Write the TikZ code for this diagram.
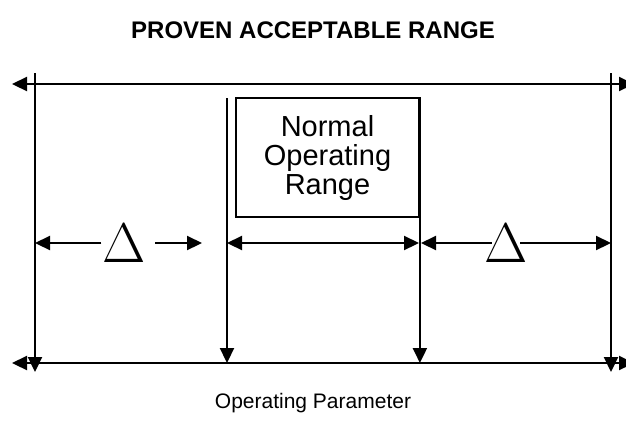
\documentclass[tikz,border=0pt]{standalone}
\usepackage{fix-cm}
\usepackage{fontspec}
\setmainfont{Liberation Sans}
\usetikzlibrary{arrows.meta}

\begin{document}
\begin{tikzpicture}[x=1pt,y=-1pt,line width=2.2pt,
	tip/.style={-{Triangle[length=15pt,width=14pt]}},
	twotip/.style={{Triangle[length=15pt,width=14pt]}-{Triangle[length=15pt,width=14pt]}},
	lbl/.style={font=\fontsize{21}{25}\selectfont},
	dlt/.style={inner sep=0pt,font=\fontsize{56}{56}\selectfont},
	nbox/.style={draw,line width=1.8pt,minimum width=183pt,minimum height=119pt,align=center,
		font=\fontsize{29}{29}\selectfont}]
		\useasboundingbox (0,0) rectangle (626,432);
		% outer frame
		\coordinate (tl) at (12,84);  \coordinate (tr) at (634,84);
		\coordinate (bl) at (12,363); \coordinate (br) at (634,363);
		\coordinate (lt) at (35,73);  \coordinate (lb) at (35,372);
		\coordinate (rt) at (611,73); \coordinate (rb) at (611,372);
		\draw[twotip] (tl) -- (tr);
		\draw[twotip] (bl) -- (br);
		\draw[tip] (lt) -- (lb);
		\draw[tip] (rt) -- (rb);
		% normal range
		\node[nbox] (nor) at (327.5,157.5) {Normal\\Operating\\Range};
		\coordinate (it) at (227,98);  \coordinate (ib) at (227,363);
		\draw[tip] (it) -- (ib);
		\draw[tip] (nor.north east) -- (nor.east |- ib);
		% deltas
		\coordinate (m1) at (35,243);  \coordinate (m2) at (155,243);
		\coordinate (m3) at (202,243); \coordinate (m4) at (227,243);
		\coordinate (m5) at (419,243); \coordinate (m6) at (421,243);
		\coordinate (m7) at (611,243);
		\node[dlt] (dl) at (124,243) {$\Delta$};
		\draw[tip] (dl.west) -- (m1);
		\draw[tip] (m2) -- (m3);
		\draw[twotip] (m4) -- (m5);
		\draw[twotip] (m6) -- (m7);
		% white only inside the triangle, so the line meets its sides
		\node[dlt,fill=white,inner xsep=-8pt] (dr) at (506,243) {$\Delta$};
		% labels
		\node[font=\bfseries\fontsize{24}{28}\selectfont] (title) at (313,30) {PROVEN ACCEPTABLE RANGE};
		\node[lbl] (par) at (313,403) {Operating Parameter};
\end{tikzpicture}
\end{document}
